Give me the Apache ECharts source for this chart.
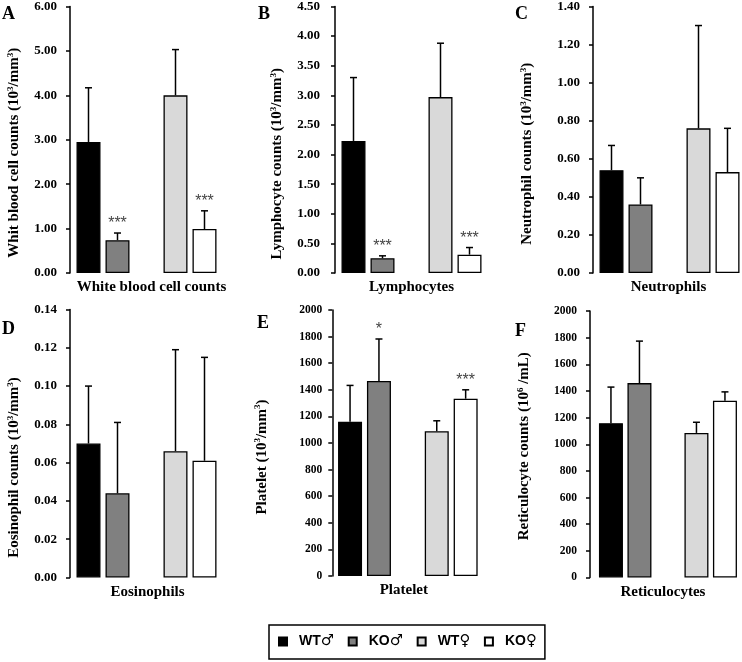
<!DOCTYPE html>
<html>
<head>
<meta charset="utf-8">
<script src="https://cdn.jsdelivr.net/npm/echarts@6/dist/echarts.min.js"></script>
<style>
  html, body { margin: 0; padding: 0; background: #fff; }
  #chart { width: 742px; height: 662px; }
</style>
</head>
<body>
<div id="chart"></div>
<script>
// ---------- data ----------
const groups = ['WT♂', 'KO♂', 'WT♀', 'KO♀'];
const slots = ['WT♂', 'KO♂', '', 'WT♀', 'KO♀']; // x-axis slots ('' = spacer between sexes)
const groupSlot = [0, 1, 3, 4];

const panelLetters = ['A', 'B', 'C', 'D', 'E', 'F'];
const xTitles = ['White blood cell counts', 'Lymphocytes', 'Neutrophils', 'Eosinophils', 'Platelet', 'Reticulocytes'];
const yTitleMain = ['Whit blood cell counts (10', 'Lymphocyte counts (10', 'Neutrophil counts (10', 'Eosinophil counts (10', 'Platelet (10', 'Reticulocyte counts (10'];
const yTitleSup = ['3', '3', '3', '3', '3', '6'];
const yTitleUnit = ['/mm', '/mm', '/mm', '/mm', '/mm', ' /mL'];
const yTitleSup2 = ['3', '3', '3', '3', '3', ''];

const wbcMean = [2.95, 0.74, 4.00, 0.99];
const wbcSD   = [1.22, 0.16, 1.03, 0.41];
const wbcSig  = ['', '***', '', '***'];

const lymMean = [2.23, 0.25, 2.97, 0.31];
const lymSD   = [1.07, 0.04, 0.91, 0.12];
const lymSig  = ['', '***', '', '***'];

const neuMean = [0.54, 0.36, 0.76, 0.53];
const neuSD   = [0.13, 0.14, 0.54, 0.23];
const neuSig  = ['', '', '', ''];

const eosMean = [0.070, 0.044, 0.066, 0.061];
const eosSD   = [0.030, 0.037, 0.053, 0.054];
const eosSig  = ['', '', '', ''];

const pltMean = [1159, 1466, 1089, 1333];
const pltSD   = [274, 316, 78, 67];
const pltSig  = ['', '*', '', '***'];

const retMean = [1158, 1459, 1085, 1326];
const retSD   = [271, 315, 80, 67];
const retSig  = ['', '', '', ''];

const yMax      = [6, 4.5, 1.4, 0.14, 2000, 2000];
const yInterval = [1, 0.5, 0.2, 0.02, 200, 200];
const yDecimals = [2, 2, 2, 2, 0, 0];

const means = [wbcMean, lymMean, neuMean, eosMean, pltMean, retMean];
const sds   = [wbcSD, lymSD, neuSD, eosSD, pltSD, retSD];
const sigs  = [wbcSig, lymSig, neuSig, eosSig, pltSig, retSig];

// ---------- styles / layout ----------
const barColors = ['#000000', '#808080', '#d9d9d9', '#ffffff'];
const SERIF = '"Liberation Serif", "Times New Roman", serif';
const SANS = '"Liberation Sans", Arial, sans-serif';

const layout = [
  { left: 74,    top: 6,     width: 145,   height: 267,   offset: 4,    labelSize: 13,   margin: 13, nameGap: 47, shiftDown: 13,  xShift: 5 },
  { left: 339,   top: 6,     width: 145,   height: 267,   offset: 4,    labelSize: 13,   margin: 15, nameGap: 49, shiftDown: 24,  xShift: 0 },
  { left: 597,   top: 5,     width: 147,   height: 268,   offset: 4,    labelSize: 13,   margin: 13, nameGap: 57, shiftDown: 14,  xShift: -1 },
  { left: 74,    top: 309.5, width: 145,   height: 268,   offset: 4,    labelSize: 13,   margin: 13, nameGap: 47, shiftDown: 24,  xShift: 1 },
  { left: 335.6, top: 310,   width: 144.5, height: 266,   offset: 3.3,  labelSize: 11.5, margin: 10, nameGap: 62, shiftDown: 14,  xShift: -4 },
  { left: 596.7, top: 311,   width: 142.5, height: 266.5, offset: 6.7,  labelSize: 11.5, margin: 13, nameGap: 57, shiftDown: 2,   xShift: -5 }
];
const letterPos = [[2, 14], [258, 14], [515, 14], [2, 329], [257, 323.5], [515, 331.5]];

const grids = [], xAxes = [], yAxes = [], series = [], graphics = [];

layout.forEach((L, p) => {
  grids.push({ left: L.left, top: L.top, width: L.width, height: L.height, containLabel: false });
  xAxes.push({
    gridIndex: p, type: 'category', data: slots,
    axisLine: { show: false }, axisTick: { show: false }, axisLabel: { show: false },
    splitLine: { show: false },
    name: xTitles[p], nameLocation: 'middle', nameGap: 7,
    nameTextStyle: {
      fontFamily: SERIF, fontWeight: 'bold', fontSize: 15, color: '#000',
      padding: L.xShift >= 0 ? [0, 0, 0, 2 * L.xShift] : [0, -2 * L.xShift, 0, 0]
    }
  });
  const nm = '{t|' + yTitleMain[p] + '}{s|' + yTitleSup[p] + '}{t|' + yTitleUnit[p] + '}' +
             (yTitleSup2[p] ? '{s|' + yTitleSup2[p] + '}' : '') + '{t|)}';
  yAxes.push({
    gridIndex: p, type: 'value', min: 0, max: yMax[p], interval: yInterval[p], offset: L.offset,
    axisLine: { show: true, lineStyle: { color: '#000', width: 1.5 } },
    axisTick: { show: true, length: 4, lineStyle: { color: '#000', width: 1.5 } },
    splitLine: { show: false },
    axisLabel: {
      color: '#000', fontFamily: SERIF, fontWeight: 'bold', fontSize: L.labelSize, margin: L.margin,
      formatter: (v) => Number(v).toFixed(yDecimals[p])
    },
    name: nm, nameLocation: 'middle', nameRotate: 90, nameGap: L.nameGap,
    nameTextStyle: {
      padding: [0, 2 * L.shiftDown, 0, 0],
      rich: {
        t: { fontFamily: SERIF, fontWeight: 'bold', fontSize: 15, color: '#000', lineHeight: 17 },
        s: { fontFamily: SERIF, fontWeight: 'bold', fontSize: 9, color: '#000', lineHeight: 9, verticalAlign: 'top' }
      }
    }
  });

  groups.forEach((g, gi) => {
    const data = slots.map(() => '-');
    data[groupSlot[gi]] = means[p][gi];
    series.push({
      type: 'bar', name: g, xAxisIndex: p, yAxisIndex: p, data,
      barWidth: 24, barGap: '-100%',
      itemStyle: { color: barColors[gi], borderColor: '#000', borderWidth: 1.3 },
      emphasis: { disabled: true }, animation: false
    });
  });

  const sigArr = sigs[p];
  series.push({
    type: 'custom', name: 'err' + p, xAxisIndex: p, yAxisIndex: p, z: 5,
    data: groups.map((g, gi) => [groupSlot[gi], means[p][gi], means[p][gi] + sds[p][gi]]),
    encode: { x: 0, y: [1, 2] },
    renderItem: (params, api) => {
      const x = api.value(0);
      const p0 = api.coord([x, api.value(1)]);
      const p1 = api.coord([x, api.value(2)]);
      const children = [
        { type: 'line', shape: { x1: p0[0], y1: p0[1], x2: p1[0], y2: p1[1] }, style: { stroke: '#000', lineWidth: 1.5 } },
        { type: 'line', shape: { x1: p1[0] - 3.5, y1: p1[1], x2: p1[0] + 3.5, y2: p1[1] }, style: { stroke: '#000', lineWidth: 1.5 } }
      ];
      const s = sigArr[params.dataIndex];
      if (s) {
        children.push({ type: 'text', x: p1[0], y: p1[1] - 1,
          style: { text: s, fill: '#444', font: '16px ' + SANS, align: 'center', verticalAlign: 'bottom' } });
      }
      return { type: 'group', children };
    },
    animation: false
  });

  graphics.push({
    type: 'text', left: letterPos[p][0], top: letterPos[p][1] - 9,
    style: { text: panelLetters[p], font: 'bold 18px ' + SERIF, fill: '#000' }
  });
});

const chart = echarts.init(document.getElementById('chart'), null, { renderer: 'canvas' });
chart.setOption({
  backgroundColor: '#fff',
  animation: false,
  grid: grids, xAxis: xAxes, yAxis: yAxes, series,
  graphic: graphics,
  legend: {
    data: groups, left: 269, top: 625, orient: 'horizontal',
    icon: 'rect', itemWidth: 8, itemHeight: 8, itemGap: 13.5,
    padding: [9, 8, 10, 9], borderColor: '#000', borderWidth: 1.5,
    formatter: (name) => '{a|' + name.slice(0, 2) + '}{b|' + name.slice(2) + '}',
    textStyle: {
      fontFamily: SANS, fontWeight: 'bold', fontSize: 14, color: '#000', padding: [0, 0, 0, 7],
      rich: {
        a: { fontFamily: SANS, fontWeight: 'bold', fontSize: 14, color: '#000', lineHeight: 18 },
        b: { fontFamily: '"DejaVu Sans", sans-serif', fontWeight: 'normal', fontSize: 15, color: '#000', lineHeight: 18 }
      }
    },
    selectedMode: false
  }
});
</script>
</body>
</html>
